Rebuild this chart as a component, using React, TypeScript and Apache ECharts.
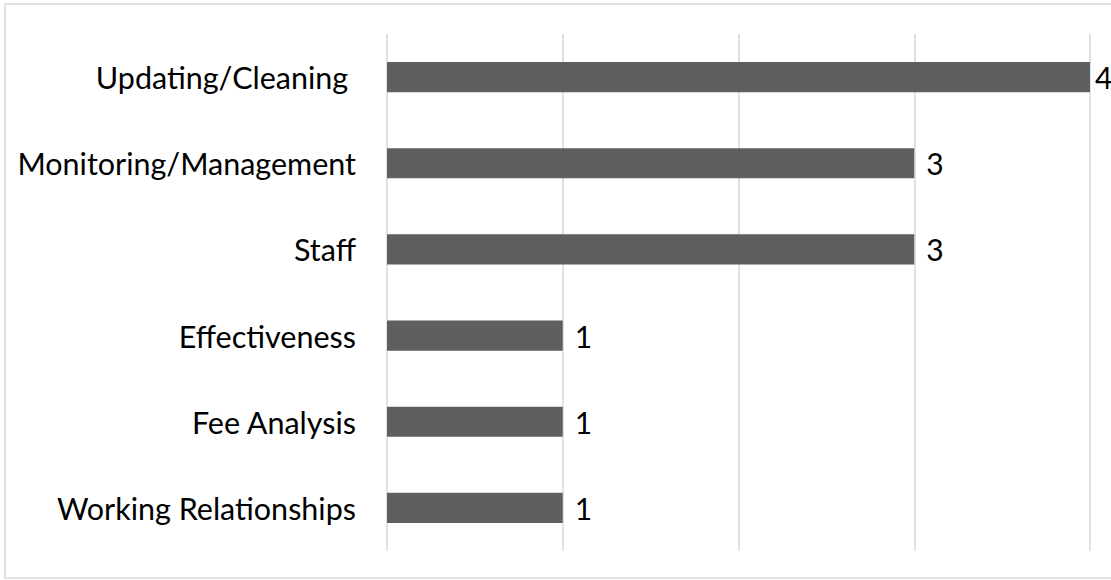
import React, { useEffect, useRef } from "react";
import * as echarts from "echarts";

const categories = [
  "Updating/Cleaning ",
  "Monitoring/Management",
  "Staff",
  "Effectiveness",
  "Fee Analysis",
  "Working Relationships",
];
const values = [4, 3, 3, 1, 1, 1];
const axisMax = 4;
const axisInterval = 1;

export default function App() {
  const ref = useRef<HTMLDivElement>(null);
  useEffect(() => {
    document.body.style.margin = "0";
    const chart = echarts.init(ref.current!, null, { renderer: "svg" });
    const font = "Lato, 'Open Sans', sans-serif";
    chart.setOption({
      animation: false,
      backgroundColor: "#ffffff",
      graphic: [
        {
          type: "rect",
          shape: { x: 5, y: 4, width: 1112, height: 574 },
          style: { fill: "none", stroke: "#d9d9d9", lineWidth: 1.5 },
          silent: true,
        },
      ],
      grid: { left: 387, right: 21, top: 34, bottom: 29, containLabel: false },
      xAxis: {
        type: "value",
        min: 0,
        max: axisMax,
        interval: axisInterval,
        axisLabel: { show: false },
        axisLine: { show: false },
        axisTick: { show: false },
        splitLine: { show: true, lineStyle: { color: "#d9d9d9", width: 1.5 } },
      },
      yAxis: {
        type: "category",
        data: categories,
        inverse: true,
        axisLine: { show: false },
        axisTick: { show: false },
        axisLabel: {
          color: "#000000",
          fontSize: 30.5,
          fontFamily: font,
          margin: 31,
        },
      },
      series: [
        {
          type: "bar",
          data: values.map((v) =>
            v === axisMax
              ? { value: v, label: { distance: 5 } }
              : { value: v }
          ),
          barWidth: "35%",
          itemStyle: { color: "#5f5f5f" },
          label: {
            show: true,
            position: "right",
            distance: 12,
            color: "#000000",
            fontSize: 30,
            fontFamily: font,
          },
        },
      ],
    });
    return () => chart.dispose();
  }, []);
  return <div ref={ref} style={{ width: 1111, height: 580 }} />;
}
